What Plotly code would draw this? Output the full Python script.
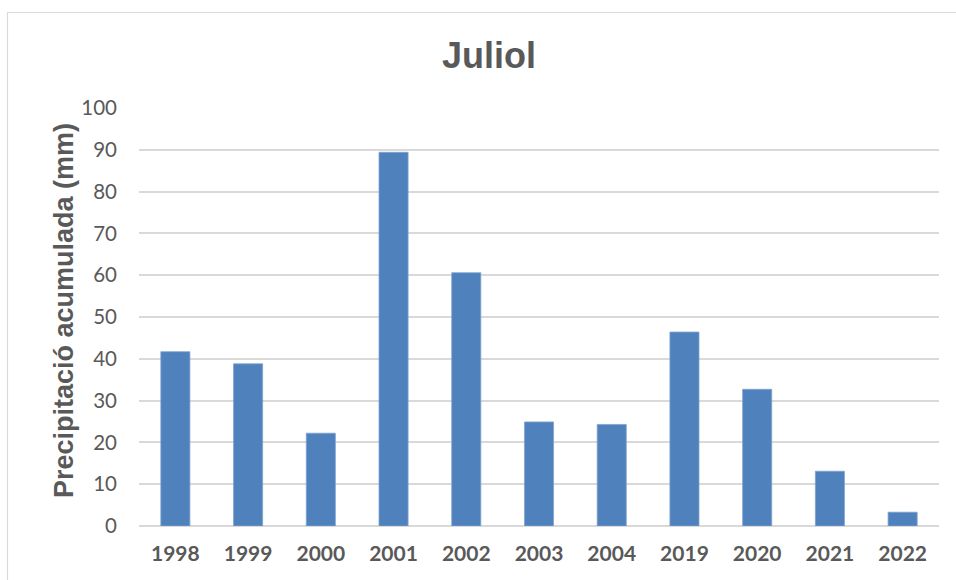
import plotly.graph_objects as go

# Accumulated July precipitation by year
years = ["1998", "1999", "2000", "2001", "2002", "2003", "2004", "2019", "2020", "2021", "2022"]
precip_mm = [41.7, 38.8, 22.2, 89.4, 60.6, 24.9, 24.3, 46.4, 32.7, 13.1, 3.3]
y_ticks = [0, 10, 20, 30, 40, 50, 60, 70, 80, 90, 100]

W, H = 956, 580
ML, MR, MT, MB = 139, 17, 108, 54
plot_w = W - ML - MR
plot_h = H - MT - MB

fig = go.Figure(
    go.Bar(
        x=years,
        y=precip_mm,
        marker=dict(color="#4f81bd", line=dict(color="#7fa3cf", width=0.8)),
        hoverinfo="x+y",
    )
)

grey = "#595959"

fig.update_layout(
    width=W,
    height=H,
    margin=dict(l=ML, r=MR, t=MT, b=MB),
    paper_bgcolor="white",
    plot_bgcolor="white",
    bargap=0.6,
    showlegend=False,
    title=dict(
        text="<b>Juliol</b>",
        font=dict(family="Liberation Sans, Arial, sans-serif", size=36, color=grey),
        x=489 / W,
        xref="container",
        xanchor="center",
        y=1 - 55 / H,
        yref="container",
        yanchor="middle",
    ),
    xaxis=dict(
        type="category",
        showgrid=False,
        showline=False,
        ticks="",
        tickfont=dict(family="Lato, sans-serif", size=21, color=grey, weight="bold"),
        ticklabelstandoff=13,
    ),
    yaxis=dict(
        range=[0, 100],
        tickvals=y_ticks,
        showgrid=True,
        gridcolor="#d9d9d9",
        gridwidth=1.5,
        zeroline=True,
        zerolinecolor="#d9d9d9",
        zerolinewidth=1.5,
        showline=False,
        ticks="",
        tickfont=dict(family="Lato, sans-serif", size=20.5, color=grey),
        ticklabelstandoff=21,
    ),
    annotations=[
        dict(
            text="<b>Precipitació acumulada (mm)</b>",
            textangle=-90,
            xref="paper",
            yref="paper",
            x=(64 - ML) / plot_w,
            y=(H - MB - 311) / plot_h,
            xanchor="center",
            yanchor="middle",
            showarrow=False,
            font=dict(family="Liberation Sans, Arial, sans-serif", size=27, color=grey),
        )
    ],
    shapes=[
        # chart frame running off the right and bottom edges
        dict(
            type="rect",
            xref="paper",
            yref="paper",
            x0=(7.5 - ML) / plot_w,
            x1=(W + 10 - ML) / plot_w,
            y0=(H - MB - (H + 10)) / plot_h,
            y1=(H - MB - 12.5) / plot_h,
            line=dict(color="#d9d9d9", width=1.2),
            fillcolor="rgba(0,0,0,0)",
            layer="below",
        )
    ],
)

fig.write_html("out.html")
